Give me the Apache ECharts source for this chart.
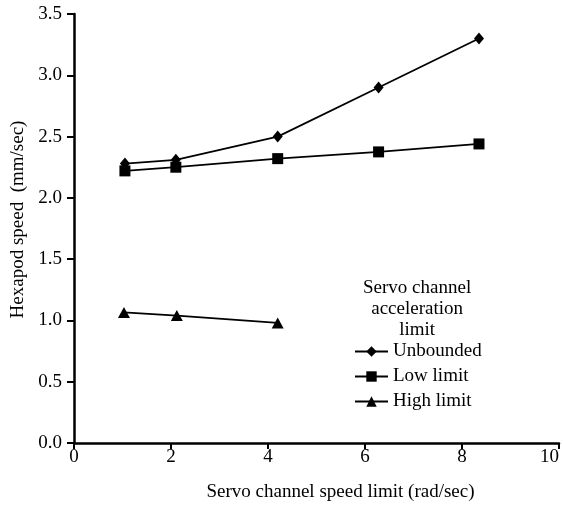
<!DOCTYPE html>
<html><head><meta charset="utf-8">
<script src="https://cdn.jsdelivr.net/npm/echarts@6/dist/echarts.min.js"></script>
<style>html,body{margin:0;padding:0;background:#fff}#c{width:563px;height:508px}</style>
</head><body><div id="c"></div>
<script>
const xUnbounded = [1.05, 2.1, 4.2, 6.28, 8.35];
const yUnbounded = [2.28, 2.31, 2.5, 2.9, 3.3];
const xLow = [1.05, 2.1, 4.2, 6.28, 8.35];
const yLow = [2.22, 2.25, 2.32, 2.375, 2.44];
const xHigh = [1.03, 2.12, 4.2];
const yHigh = [1.065, 1.04, 0.98];
const seriesNames = ['Unbounded', 'Low limit', 'High limit'];
const legendTitle = 'Servo channel\nacceleration\nlimit';
const xTitle = 'Servo channel speed limit (rad/sec)';
const yTitle = 'Hexapod speed  (mm/sec)';

const pairs = (xs, ys) => xs.map((x, i) => [x, ys[i]]);
const font = 'Liberation Serif';
const fs = 19;
const chart = echarts.init(document.getElementById('c'));
const lineStyle = { color: '#000', width: 1.8 };
chart.setOption({
  animation: false,
  textStyle: { fontFamily: font, color: '#000' },
  grid: { left: 74, right: 4, top: 14, bottom: 65, outerBoundsMode: 'none', containLabel: false },
  xAxis: {
    type: 'value', min: 0, max: 10, interval: 2,
    name: xTitle, nameLocation: 'middle', nameGap: 40,
    nameTextStyle: { fontFamily: font, fontSize: fs, color: '#000', padding: [0, 0, 0, 48] },
    axisLine: { lineStyle: { color: '#000', width: 2.5 } },
    axisTick: { show: true, inside: false, length: 6, lineStyle: { color: '#000', width: 2 } },
    axisLabel: { fontFamily: font, fontSize: fs, color: '#000', margin: 5, alignMaxLabel: 'right' },
    splitLine: { show: false }
  },
  yAxis: {
    type: 'value', min: 0, max: 3.5, interval: 0.5,
    name: yTitle, nameLocation: 'middle', nameGap: 46,
    nameTextStyle: { fontFamily: font, fontSize: fs, color: '#000', padding: [0, 0, 0, 18] },
    axisLine: { show: true, lineStyle: { color: '#000', width: 2.5 } },
    axisTick: { show: true, inside: false, length: 7, lineStyle: { color: '#000', width: 2 } },
    axisLabel: { fontFamily: font, fontSize: fs, color: '#000', margin: 12,
      formatter: v => v.toFixed(1) },
    splitLine: { show: false }
  },
  legend: {
    left: 349, top: 337, orient: 'vertical', itemGap: 6, itemWidth: 33, itemHeight: 13,
    textStyle: { fontFamily: font, fontSize: fs, color: '#000' },
    data: seriesNames
  },
  graphic: [{
    type: 'text', left: 363, top: 278,
    style: { text: legendTitle, fontFamily: font, fontSize: fs, fill: '#000',
      textAlign: 'center', lineHeight: 21 }
  }],
  series: [
    { name: seriesNames[0], type: 'line', data: pairs(xUnbounded, yUnbounded),
      symbol: 'diamond', symbolSize: [10, 12], itemStyle: { color: '#000' }, lineStyle },
    { name: seriesNames[1], type: 'line', data: pairs(xLow, yLow),
      symbol: 'rect', symbolSize: 11, itemStyle: { color: '#000' }, lineStyle },
    { name: seriesNames[2], type: 'line', data: pairs(xHigh, yHigh),
      symbol: 'triangle', symbolSize: [12, 11], itemStyle: { color: '#000' }, lineStyle }
  ]
});
</script></body></html>
